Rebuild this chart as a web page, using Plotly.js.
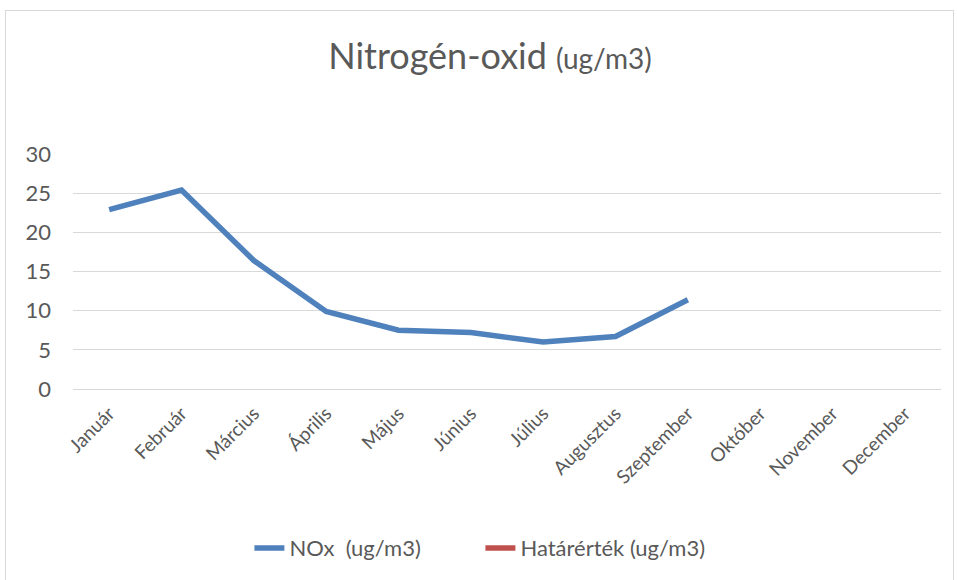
<!DOCTYPE html>
<html>
<head>
<meta charset="utf-8">
<script src="https://cdn.plot.ly/plotly-3.0.1.min.js"></script>
<style>
  html, body { margin: 0; padding: 0; background: #fff; }
  #wrap { position: relative; width: 957px; height: 580px; }
  #chart { position: absolute; left: 0; top: 0; width: 957px; height: 580px; }
  #frame { position: absolute; left: 5px; top: 10px; width: 949px; height: 580px;
           border: 1px solid #d9d9d9; box-sizing: border-box; pointer-events: none; }
</style>
</head>
<body>
<div id="wrap">
  <div id="chart"></div>
  <div id="frame"></div>
</div>
<script>
const months = ["Január","Február","Március","Április","Május","Június","Július","Augusztus","Szeptember","Október","November","December"];
const noxValues = [22.9, 25.4, 16.4, 9.9, 7.5, 7.2, 6.0, 6.7, 11.4, null, null, null];
const limitValues = [null, null, null, null, null, null, null, null, null, null, null, null];
const yTicks = [0, 5, 10, 15, 20, 25, 30];

const fontFam = "Lato, 'Open Sans', sans-serif";
const grey = "#595959";

const traces = [
  { x: months, y: noxValues, type: "scatter", mode: "lines", name: "NOx  (ug/m3)",
    line: { color: "#4F81BD", width: 5.5 }, connectgaps: false },
  { x: months, y: limitValues, type: "scatter", mode: "lines", name: "Határérték (ug/m3)",
    line: { color: "#C0504D", width: 5.5 }, connectgaps: false }
];

const layout = {
  width: 957, height: 580,
  paper_bgcolor: "#ffffff", plot_bgcolor: "#ffffff",
  margin: { l: 73, r: 16, t: 154, b: 191 },
  font: { family: fontFam, color: grey, size: 15 },
  title: {
    text: "Nitrogén-oxid <span style='font-size:28px'>(ug/m3)</span>",
    font: { family: fontFam, size: 36, color: grey },
    xref: "container", x: 0.512, xanchor: "center",
    yref: "container", y: 0.902, yanchor: "middle"
  },
  xaxis: {
    type: "category", tickangle: -45, showgrid: false, zeroline: false,
    showline: false, ticks: "outside", ticklen: 5, tickcolor: "rgba(0,0,0,0)",
    tickfont: { size: 19, color: grey, family: fontFam },
    range: [-0.5, 11.5], fixedrange: true
  },
  yaxis: {
    range: [0, 30], tickvals: yTicks, ticktext: yTicks.map(String),
    showgrid: true, gridcolor: "#d9d9d9", gridwidth: 1,
    zeroline: true, zerolinecolor: "#d9d9d9", zerolinewidth: 1,
    showline: false, ticks: "", ticklabelstandoff: 21,
    tickfont: { size: 22, color: grey, family: fontFam }, fixedrange: true
  },
  showlegend: true,
  legend: {
    orientation: "h", xref: "container", x: 0.502, xanchor: "center",
    yref: "container", y: 0.055, yanchor: "middle",
    font: { size: 22, color: grey, family: fontFam },
    entrywidth: 186, entrywidthmode: "pixels", tracegroupgap: 0
  }
};

Plotly.newPlot("chart", traces, layout, { displayModeBar: false, staticPlot: true });
</script>
</body>
</html>
